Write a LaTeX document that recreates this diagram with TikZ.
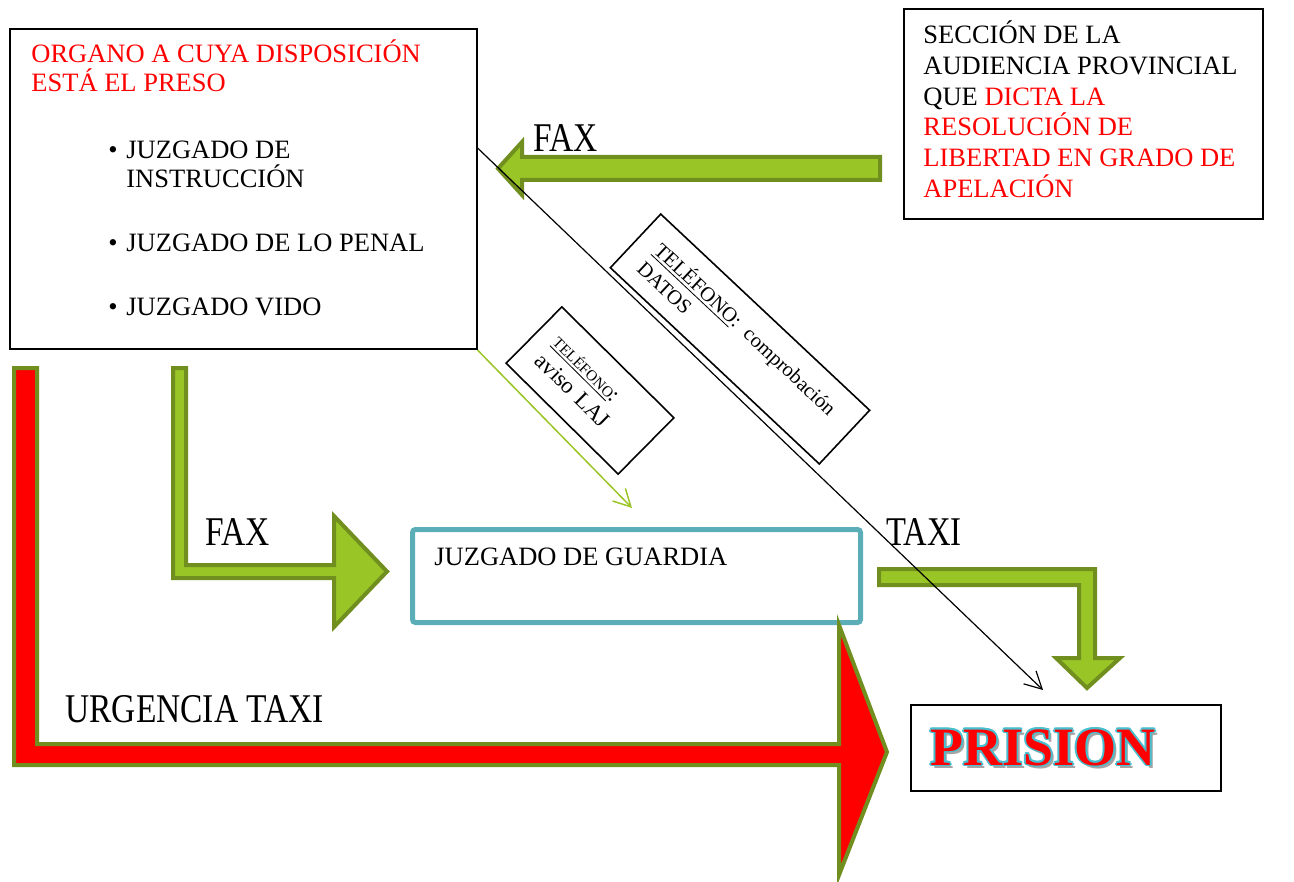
\documentclass[tikz,border=0pt]{standalone}
\usepackage{fontspec}
\setmainfont{Liberation Serif}
\usetikzlibrary{arrows.meta}
\definecolor{ygreen}{RGB}{154,197,39}
\definecolor{ogreen}{RGB}{112,143,31}
\definecolor{tealb}{RGB}{91,174,183}
\definecolor{cyanp}{RGB}{72,190,206}
\definecolor{shad}{RGB}{165,165,165}
\newcommand\bodyfont{\fontsize{13.25}{15.25}\selectfont}
\newcommand\lblfont{\fontsize{20.4}{24}\selectfont}
\newcommand\prisfont{\fontsize{27}{30}\selectfont\bfseries}
\begin{document}
\begin{tikzpicture}[x=0.5pt,y=-0.5pt,
  txt/.style={anchor=base west, inner sep=0pt, font=\bodyfont},
  rtxt/.style={txt, text=red},
  lbl/.style={anchor=base west, inner sep=0pt, font=\lblfont},
  blk/.style={fill=ygreen, draw=ogreen, line width=2pt, line join=miter},
  redblk/.style={fill=red, draw=ogreen, line width=2pt, line join=miter},
  frame/.style={draw=black, line width=1pt, inner sep=0pt},
  rotbox/.style={draw=black, line width=0.8pt, inner ysep=0pt, align=left},
  tip/.style={-{Straight Barb[length=8.5pt,width=9pt]}},
  ptxt/.style={anchor=base west, inner sep=0pt, font=\prisfont}
]
\useasboundingbox (0,0) rectangle (1294,882);

% ---------- boxes ----------
\node[frame, minimum width=233.25pt, minimum height=160pt] (lbox) at (243.25,189) {};
\node[frame, minimum width=179.5pt, minimum height=105pt] (rbox) at (1083.5,114.5) {};
\node[draw=tealb, line width=2.5pt, rounded corners=1.5pt, inner sep=0pt,
      minimum width=224pt, minimum height=46.5pt] (guard) at (636.5,576) {};
\node[frame, minimum width=155.25pt, minimum height=43pt] (pbox) at (1065.75,747.5) {};

% ---------- left box text ----------
\node[rtxt] (org1) at (31,63) {ORGANO A CUYA DISPOSICIÓN};
\node[rtxt] (org2) at (31,92) {ESTÁ EL PRESO};
\node[txt] (b1) at (108,159) {•};
\node[txt] (i1a) at (126,159) {JUZGADO DE};
\node[txt] (i1b) at (126,188) {INSTRUCCIÓN};
\node[txt] (b2) at (108,251) {•};
\node[txt] (i2) at (126,251) {JUZGADO DE LO PENAL};
\node[txt] (b3) at (108,315) {•};
\node[txt] (i3) at (126,315) {JUZGADO VIDO};

% ---------- right box text ----------
\node[txt] (r1) at (923,44) {SECCIÓN DE LA};
\node[txt] (r2) at (923,75) {AUDIENCIA PROVINCIAL};
\node[txt] (r3) at (923,105.5) {QUE \textcolor{red}{DICTA LA}};
\node[rtxt] (r4) at (923,136) {RESOLUCIÓN DE};
\node[rtxt] (r5) at (923,167) {LIBERTAD EN GRADO DE};
\node[rtxt] (r6) at (923,198) {APELACIÓN};

% ---------- guardia text ----------
\node[txt] (gtxt) at (434,565) {JUZGADO DE GUARDIA};

% ---------- block arrows ----------
\draw[blk] (880,157) -- (522,157) -- (522,142) -- (498,168.5) -- (522,195) -- (522,180) -- (880,180) -- cycle;
\draw[blk] (173,368) -- (186,368) -- (186,565) -- (334,565) -- (334,516) -- (387,571.5) -- (334,627) -- (334,578) -- (173,578) -- cycle;
\draw[redblk] (14,368) -- (37,368) -- (37,744) -- (839,744) -- (839,625) -- (887,752) -- (839,875) -- (839,765) -- (14,765) -- cycle;
\draw[blk] (879,569) -- (1095,569) -- (1095,658) -- (1120,658) -- (1087,688) -- (1056,658) -- (1079,658) -- (1079,585) -- (879,585) -- cycle;

% ---------- labels ----------
\node[lbl] (faxtop) at (533,152) {\scalebox{0.82}[1]{FAX}};
\node[lbl] (faxleft) at (205,545) {\scalebox{0.82}[1]{FAX}};
\node[lbl] (taxi) at (886,545) {\scalebox{0.80}[1]{TAXI}};
\node[lbl] (urg) at (65,722) {\scalebox{0.82}[1]{URGENCIA TAXI}};

% ---------- rotated telephone boxes ----------
\node[rotbox, rotate=-43.2, minimum height=36.8pt, text width=123pt, inner xsep=10.15pt,
      font=\fontsize{10.3}{12.5}\selectfont] (tel1) at (740,339)
      {\underline{TELÉFONO}: comprobación\\DATOS};
\node[rotbox, rotate=-44.7, minimum height=39.6pt, text width=60pt, inner xsep=9.4pt,
      font=\fontsize{11.4}{13}\selectfont] (tel2) at (590,390.5)
      {{\fontsize{7.6}{9}\selectfont\underline{TELÉFONO}}:\\aviso LAJ};

% ---------- PRISION ----------
\node[ptxt, text=shad] (pshadow) at (933,768) {PRISION};
\foreach \dx/\dy [count=\k] in {1.6/0,-1.6/0,0/1.6,0/-1.6,1.15/1.15,-1.15/1.15,1.15/-1.15,-1.15/-1.15}
  \node[ptxt, text=cyanp] (pc\k) at (930+\dx,765+\dy) {PRISION};
\node[ptxt, text=red] (ptext) at (930,765) {PRISION};

% ---------- thin connectors ----------
\coordinate (c1) at (476.5,147);
\coordinate (c2) at (1043,690);
\coordinate (g2) at (632,508);
\draw[line width=0.6pt, tip] (c1) -- (c2);
\draw[ygreen, line width=0.75pt, tip] (lbox.south east) -- (g2);
\end{tikzpicture}
\end{document}
